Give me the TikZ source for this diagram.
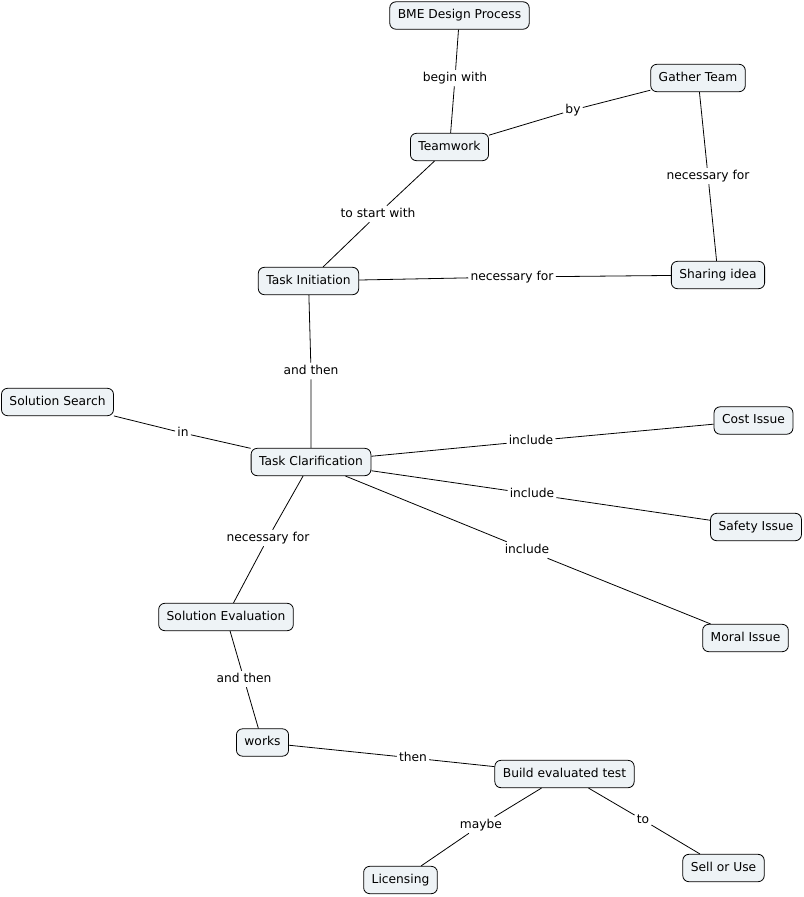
\documentclass[tikz,border=0pt]{standalone}
\usepackage{fontspec}
\setmainfont{DejaVu Sans}
\definecolor{nodefill}{RGB}{238,243,246}
\begin{document}
\begin{tikzpicture}[x=0.75pt,y=-0.75pt,
  concept/.style={draw=black, line width=0.6pt, fill=nodefill, rounded corners=4.5pt,
    font=\fontsize{9.2}{11}\selectfont, inner xsep=6pt, minimum height=20.5pt, text height=7pt, text depth=2pt},
  lbl/.style={fill=white, inner sep=1.5pt, font=\fontsize{9.2}{11}\selectfont, text height=7pt, text depth=2pt},
  link/.style={draw=black, line width=0.6pt}]
\useasboundingbox (0,0) rectangle (804,897);
% concepts
\node[concept] (bme) at (459.5,15.5) {BME Design Process};
\node[concept] (gather) at (698,78) {Gather Team};
\node[concept] (team) at (449.5,147) {Teamwork};
\node[concept] (init) at (308.5,281) {Task Initiation};
\node[concept] (share) at (718,275) {Sharing idea};
\node[concept] (search) at (57.5,402) {Solution Search};
\node[concept] (clar) at (311,462) {Task Clarification};
\node[concept] (cost) at (753.5,420.5) {Cost Issue};
\node[concept] (safety) at (756,527) {Safety Issue};
\node[concept] (eval) at (226,617) {Solution Evaluation};
\node[concept] (moral) at (745.5,638) {Moral Issue};
\node[concept] (works) at (262.5,742.5) {works};
\node[concept] (build) at (564.5,774) {Build evaluated test};
\node[concept] (lic) at (400.5,880) {Licensing};
\node[concept] (sell) at (723.5,868) {Sell or Use};
% labels
\node[lbl] (l1) at (455,78) {begin with};
\node[lbl] (l2) at (573,110) {by};
\node[lbl] (l3) at (708,176) {necessary for};
\node[lbl] (l4) at (378,214) {to start with};
\node[lbl] (l5) at (512,277) {necessary for};
\node[lbl] (l6) at (311,371) {and then};
\node[lbl] (l7) at (183,433) {in};
\node[lbl] (l8) at (531,441) {include};
\node[lbl] (l9) at (532,494) {include};
\node[lbl] (l10) at (527,550) {include};
\node[lbl] (l11) at (268,538) {necessary for};
\node[lbl] (l12) at (244,679) {and then};
\node[lbl] (l13) at (413,758) {then};
\node[lbl] (l14) at (481,825) {maybe};
\node[lbl] (l15) at (643,820) {to};
% links
\draw[link] (bme) -- (l1) -- (team);
\draw[link] (team) -- (l2) -- (gather);
\draw[link] (gather) -- (l3) -- (share);
\draw[link] (team) -- (l4) -- (init);
\draw[link] (init) -- (l5) -- (share);
\draw[link] (init) -- (l6) -- (clar);
\draw[link] (search) -- (l7) -- (clar);
\draw[link] (clar) -- (l8) -- (cost);
\draw[link] (clar) -- (l9) -- (safety);
\draw[link] (clar) -- (l10) -- (moral);
\draw[link] (clar) -- (l11) -- (eval);
\draw[link] (eval) -- (l12) -- (works);
\draw[link] (works) -- (l13) -- (build);
\draw[link] (build) -- (l14) -- (lic);
\draw[link] (build) -- (l15) -- (sell);
\end{tikzpicture}
\end{document}
